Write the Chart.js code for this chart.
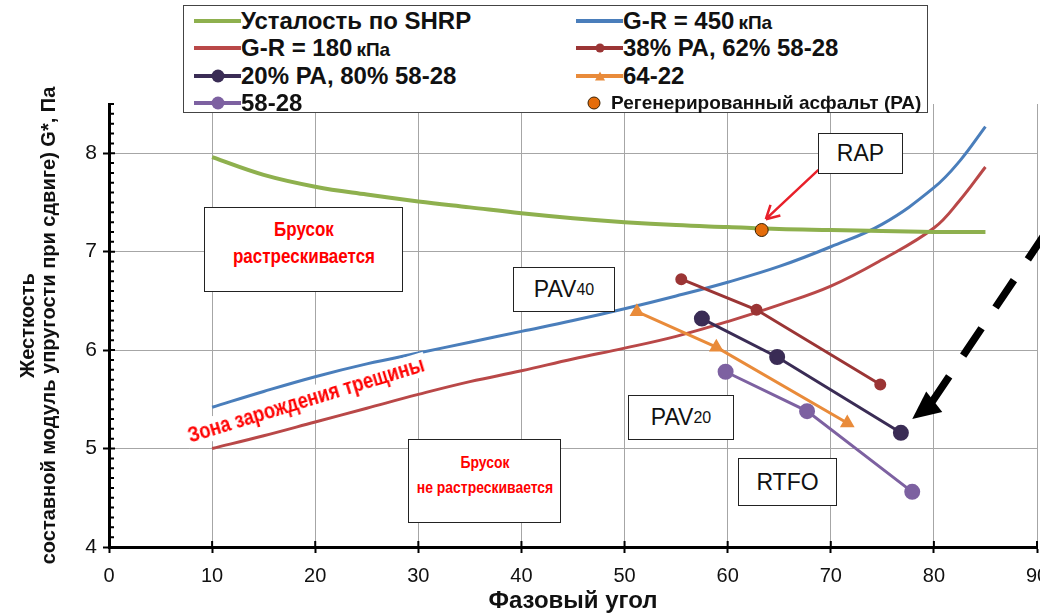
<!DOCTYPE html>
<html lang="ru">
<head>
<meta charset="utf-8">
<title>Жесткость и фазовый угол</title>
<script src="https://cdn.jsdelivr.net/npm/chart.js@4.4.1/dist/chart.umd.min.js"></script>
<style>
  html, body { margin: 0; padding: 0; background: #fff; }
  #wrap { position: relative; width: 1040px; height: 613px; overflow: hidden; }
  #chart { position: absolute; left: 0; top: 0; }
  .box {
    position: absolute; background: #fff; border: 1.5px solid #222; box-sizing: border-box;
    font-family: "Liberation Sans", Arial, sans-serif; color: #111; text-align: center;
  }
  .lbl { display: flex; align-items: center; justify-content: center; font-size: 23px; }
  .lbl sub { font-size: 16px; vertical-align: -6px; }
  .warn { color: #f00; font-family: "Liberation Sans", Arial, sans-serif; font-weight: bold; white-space: nowrap; }
  .box .warn { position: absolute; left: 50%; display: inline-block; text-align: center; }
  #zone {
    position: absolute; left: 306px; top: 400px;
    transform: translate(-50%, -50%) rotate(-17deg) scaleX(0.83);
    background: #fff; padding: 0 3px; font-size: 22px; line-height: 24px;
  }
  #legend { position: absolute; left: 183px; top: 5px; width: 745px; height: 108px; border: 1.5px solid #444; background: #fff; box-sizing: border-box; }
  .item { position: absolute; height: 24px; display: flex; align-items: center; white-space: nowrap;
    font-family: "Liberation Sans", Arial, sans-serif; font-weight: bold; font-size: 24px; color: #111; }
  .sw { position: relative; width: 47px; height: 24px; flex: none; }
  .sw .ln { position: absolute; left: 0; right: 0; top: 10px; height: 4px; }
  .sw .mk { position: absolute; top: 50%; left: 50%; transform: translate(-50%, -50%); }
  .kpa { font-size: 19px; margin-left: 4px; }
  .small { font-size: 19px; }
</style>
</head>
<body>
<div id="wrap">
  <canvas id="chart" width="1040" height="613"></canvas>

  <div class="box" style="left:204px; top:207px; width:199px; height:85px;">
    <div class="warn" style="top:8px; font-size:20px; line-height:27px; transform:translateX(-50%) scaleX(0.85);">Брусок<br>растрескивается</div>
  </div>
  <div class="box" style="left:408px; top:439px; width:153px; height:84px;">
    <div class="warn" style="top:10px; font-size:17px; line-height:25px; transform:translateX(-50%) scaleX(0.82);">Брусок<br>не растрескивается</div>
  </div>
  <div class="box lbl" style="left:513px; top:267px; width:102px; height:45px;">PAV<sub>40</sub></div>
  <div class="box lbl" style="left:628px; top:395px; width:106px; height:45px;">PAV<sub>20</sub></div>
  <div class="box lbl" style="left:738px; top:458px; width:99px; height:48px;">RTFO</div>
  <div class="box lbl" style="left:818px; top:133px; width:85px; height:41px;">RAP</div>
  <div id="zone" class="warn">Зона зарождения трещины</div>

  <div id="legend"></div>
</div>

<script>
// Фазовый угол (градусы) для расчетных кривых
const phase = [10, 15, 20, 25, 30, 35, 40, 45, 50, 55, 60, 65, 70, 75, 80, 82.5, 85];
const shrpFatigue = [7.96, 7.78, 7.66, 7.58, 7.51, 7.45, 7.39, 7.34, 7.30, 7.27, 7.25, 7.23, 7.22, 7.21, 7.20, 7.20, 7.20];
const gr450 = [5.42, 5.58, 5.73, 5.86, 5.97, 6.08, 6.19, 6.30, 6.42, 6.55, 6.69, 6.85, 7.05, 7.28, 7.65, 7.92, 8.27];
const gr180 = [5.00, 5.13, 5.27, 5.41, 5.55, 5.68, 5.79, 5.91, 6.02, 6.14, 6.29, 6.46, 6.65, 6.92, 7.24, 7.52, 7.86];

// Вяжущие: RTFO -> PAV20 -> PAV40
const mix38Phase = [55.5, 62.8, 74.8];
const mix38G = [6.72, 6.41, 5.65];
const mix20Phase = [57.5, 64.8, 76.8];
const mix20G = [6.32, 5.93, 5.16];
const pg6422Phase = [51.2, 58.9, 71.6];
const pg6422G = [6.39, 6.03, 5.26];
const pg5828Phase = [59.8, 67.7, 77.9];
const pg5828G = [5.78, 5.38, 4.56];
const raPhase = [63.3];
const raG = [7.22];

// стрелки (в координатах осей)
const rapArrow = [[68.8, 7.83], [63.7, 7.33]];
const bigArrow = [[90.9, 7.20], [79.6, 5.44], [77.9, 5.30]];

const pts = (xs, ys) => xs.map((x, i) => ({ x: x, y: ys[i] }));

const sans = '"Liberation Sans", Arial, sans-serif';

function curve(label, xs, ys, color, width) {
  return {
    label: label, data: pts(xs, ys), showLine: true, borderColor: color, backgroundColor: color,
    borderWidth: width, pointRadius: 0, tension: 0.4, order: 2,
  };
}
function marked(label, xs, ys, color, style, radius) {
  return {
    label: label, data: pts(xs, ys), showLine: true, borderColor: color, backgroundColor: color,
    borderWidth: 3, pointStyle: style, pointRadius: radius, pointHoverRadius: radius, order: 1,
  };
}

const datasets = [
  curve("Усталость по SHRP", phase, shrpFatigue, "#8eb04e", 4),
  curve("G-R = 450 кПа", phase, gr450, "#4a7ebb", 3),
  curve("G-R = 180 кПа", phase, gr180, "#b94848", 3),
  marked("38% РА, 62% 58-28", mix38Phase, mix38G, "#9b3535", "circle", 4.5),
  marked("20% РА, 80% 58-28", mix20Phase, mix20G, "#3a2c55", "circle", 6.5),
  marked("64-22", pg6422Phase, pg6422G, "#e98b3a", "triangle", 5.5),
  marked("58-28", pg5828Phase, pg5828G, "#7d61a1", "circle", 6.5),
  {
    label: "Регенерированный асфальт (РА)", data: pts(raPhase, raG), showLine: false,
    backgroundColor: "#e46c0a", borderColor: "#3a2000", borderWidth: 1,
    pointRadius: 6.5, pointHoverRadius: 6.5, order: 0,
  },
];

// минорные деления и стрелки
const extras = {
  id: "extras",
  afterDatasetsDraw(chart) {
    const { ctx, scales: { x, y } } = chart;
    const px = (p) => [x.getPixelForValue(p[0]), y.getPixelForValue(p[1])];
    ctx.save();

    // красная стрелка к RAP
    const a0 = px(rapArrow[0]), a1 = px(rapArrow[1]);
    ctx.strokeStyle = "#e8202a";
    ctx.lineWidth = 2.5;
    ctx.beginPath();
    ctx.moveTo(a0[0], a0[1]);
    ctx.lineTo(a1[0], a1[1]);
    const ang = Math.atan2(a1[1] - a0[1], a1[0] - a0[0]);
    for (const d of [-0.5, 0.5]) {
      ctx.moveTo(a1[0], a1[1]);
      ctx.lineTo(a1[0] - 15 * Math.cos(ang + d), a1[1] - 15 * Math.sin(ang + d));
    }
    ctx.stroke();

    // пунктирная стрелка
    const b0 = px(bigArrow[0]), b1 = px(bigArrow[1]), b2 = px(bigArrow[2]);
    ctx.strokeStyle = "#000";
    ctx.lineWidth = 7.5;
    ctx.setLineDash([33, 25]);
    ctx.beginPath();
    ctx.moveTo(b0[0], b0[1]);
    ctx.lineTo(b1[0], b1[1]);
    ctx.stroke();
    ctx.setLineDash([]);
    const hAng = Math.atan2(b2[1] - b1[1], b2[0] - b1[0]);
    const nx = -Math.sin(hAng), ny = Math.cos(hAng);
    const hl = 28, hw = 13;
    ctx.fillStyle = "#000";
    ctx.beginPath();
    ctx.moveTo(b2[0], b2[1]);
    ctx.lineTo(b2[0] - hl * Math.cos(hAng) + hw * nx, b2[1] - hl * Math.sin(hAng) + hw * ny);
    ctx.lineTo(b2[0] - hl * Math.cos(hAng) - hw * nx, b2[1] - hl * Math.sin(hAng) - hw * ny);
    ctx.closePath();
    ctx.fill();
    ctx.restore();
  },
  afterDraw(chart) {
    const { ctx, scales: { x, y } } = chart;
    ctx.save();
    ctx.strokeStyle = "#000";
    ctx.lineWidth = 2;
    ctx.beginPath();
    for (let v = 40; v <= 85; v++) {
      const py = y.getPixelForValue(v / 10);
      ctx.moveTo(y.right, py);
      ctx.lineTo(y.right + (v % 10 === 0 ? 6 : 5), py);
    }
    for (let v = 10; v <= 90; v += 10) {
      const xp = x.getPixelForValue(v);
      ctx.moveTo(xp, x.top);
      ctx.lineTo(xp, x.top - 6);
    }
    ctx.stroke();
    ctx.restore();
  },
};

const chart = new Chart(document.getElementById("chart").getContext("2d"), {
  type: "scatter",
  data: { datasets: datasets },
  options: {
    responsive: false,
    animation: false,
    events: [],
    layout: { autoPadding: false, padding: { top: 104, right: 3, left: 0, bottom: 0 } },
    plugins: { legend: { display: false }, tooltip: { enabled: false } },
    scales: {
      x: {
        type: "linear", min: 0, max: 90,
        ticks: { stepSize: 10, color: "#111", font: { family: sans, size: 20 }, padding: 11, maxRotation: 0 },
        grid: { color: "#a6a6a6", lineWidth: 1, tickColor: "#000", tickLength: 6, tickWidth: 2 },
        border: { color: "#000", width: 3 },
        title: {
          display: true, text: "Фазовый угол", color: "#111",
          font: { family: sans, size: 24, weight: "bold", lineHeight: 1 }, padding: { top: 0, bottom: 0 },
        },
        afterFit(s) { s.height = 66; s.paddingLeft = 0; s.paddingRight = 0; },
      },
      y: {
        type: "linear", min: 4, max: 8.5,
        ticks: {
          stepSize: 1, color: "#111", font: { family: sans, size: 21 }, padding: 6,
          callback: (v) => (v % 1 === 0 ? v : ""),
        },
        grid: {
          color: (c) => (c.tick && c.tick.value % 1 === 0 ? "#a6a6a6" : "rgba(0,0,0,0)"),
          tickColor: (c) => (c.tick && c.tick.value % 1 === 0 ? "#000" : "rgba(0,0,0,0)"),
          lineWidth: 1, tickLength: 6, tickWidth: 2,
        },
        border: { color: "#000", width: 3 },
        title: {
          display: true, color: "#111",
          text: ["Жесткость", "составной модуль упругости при сдвиге) G*, Па"],
          font: { family: sans, size: 20, weight: "bold", lineHeight: 1.05 }, padding: { top: 17.5, bottom: 0 },
        },
        afterFit(s) { s.width = 109; s.paddingTop = 0; s.paddingBottom = 0; },
      },
    },
  },
  plugins: [extras],
});

// легенда в две колонки
const legendSlots = [[193, 20], [575, 20], [193, 47], [575, 47], [193, 75], [575, 75], [193, 102], [575, 102]];
const legend = document.getElementById("legend");
chart.data.datasets.forEach((ds, i) => {
  const item = document.createElement("div");
  item.className = "item";
  item.style.left = legendSlots[i][0] - 183 + "px";
  item.style.top = legendSlots[i][1] - 5 - 12 + "px";
  const sw = document.createElement("span");
  sw.className = "sw";
  if (ds.showLine) {
    const ln = document.createElement("span");
    ln.className = "ln";
    ln.style.background = ds.borderColor;
    sw.appendChild(ln);
  } else {
    sw.style.width = "35px";
  }
  if (ds.pointRadius > 0) {
    const mk = document.createElement("span");
    mk.className = "mk";
    const r = ds.pointRadius;
    if (ds.pointStyle === "triangle") {
      mk.style.width = "0"; mk.style.height = "0";
      mk.style.borderLeft = r + "px solid transparent";
      mk.style.borderRight = r + "px solid transparent";
      mk.style.borderBottom = r * 1.7 + "px solid " + ds.backgroundColor;
    } else {
      mk.style.width = 2 * r + "px"; mk.style.height = 2 * r + "px";
      mk.style.borderRadius = "50%";
      mk.style.background = ds.backgroundColor;
      mk.style.boxSizing = "border-box";
      if (!ds.showLine) mk.style.border = "1px solid " + ds.borderColor;
    }
    sw.appendChild(mk);
  }
  item.appendChild(sw);
  const tx = document.createElement("span");
  if (ds.showLine) {
    tx.innerHTML = ds.label.replace(" кПа", '<span class="kpa">кПа</span>');
  } else {
    tx.className = "small";
    tx.textContent = ds.label;
  }
  item.appendChild(tx);
  legend.appendChild(item);
});
</script>
</body>
</html>
